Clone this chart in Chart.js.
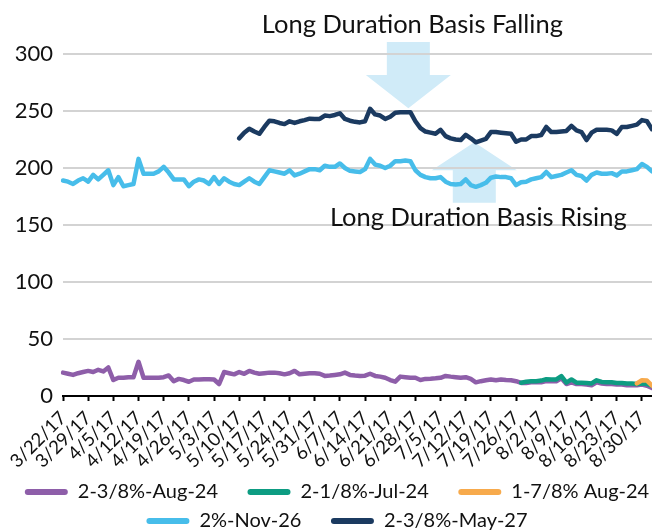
<!DOCTYPE html>
<html><head><meta charset="utf-8">
<script src="https://cdn.jsdelivr.net/npm/chart.js@4.4.1/dist/chart.umd.min.js"></script>
<style>html,body{margin:0;padding:0;background:#fff;}</style>
</head><body>
<canvas id="c" width="652" height="531"></canvas>
<script>
// Business-day categories
const dates = ("3/22/17 3/23/17 3/24/17 3/27/17 3/28/17 3/29/17 3/30/17 3/31/17 4/3/17 4/4/17 " +
"4/5/17 4/6/17 4/7/17 4/10/17 4/11/17 4/12/17 4/13/17 4/14/17 4/17/17 4/18/17 " +
"4/19/17 4/20/17 4/21/17 4/24/17 4/25/17 4/26/17 4/27/17 4/28/17 5/1/17 5/2/17 " +
"5/3/17 5/4/17 5/5/17 5/8/17 5/9/17 5/10/17 5/11/17 5/12/17 5/15/17 5/16/17 " +
"5/17/17 5/18/17 5/19/17 5/22/17 5/23/17 5/24/17 5/25/17 5/26/17 5/29/17 5/30/17 " +
"5/31/17 6/1/17 6/2/17 6/5/17 6/6/17 6/7/17 6/8/17 6/9/17 6/12/17 6/13/17 " +
"6/14/17 6/15/17 6/16/17 6/19/17 6/20/17 6/21/17 6/22/17 6/23/17 6/26/17 6/27/17 " +
"6/28/17 6/29/17 6/30/17 7/3/17 7/4/17 7/5/17 7/6/17 7/7/17 7/10/17 7/11/17 " +
"7/12/17 7/13/17 7/14/17 7/17/17 7/18/17 7/19/17 7/20/17 7/21/17 7/24/17 7/25/17 " +
"7/26/17 7/27/17 7/28/17 7/31/17 8/1/17 8/2/17 8/3/17 8/4/17 8/7/17 8/8/17 " +
"8/9/17 8/10/17 8/11/17 8/14/17 8/15/17 8/16/17 8/17/17 8/18/17 8/21/17 8/22/17 " +
"8/23/17 8/24/17 8/25/17 8/28/17 8/29/17 8/30/17 8/31/17 9/1/17").split(' ');

// Weekly tick labels shown on the axis
const tickLabels = ["3/22/17","3/29/17","4/5/17","4/12/17","4/19/17","4/26/17","5/3/17","5/10/17",
"5/17/17","5/24/17","5/31/17","6/7/17","6/14/17","6/21/17","6/28/17","7/5/17","7/12/17","7/19/17",
"7/26/17","8/2/17","8/9/17","8/16/17","8/23/17","8/30/17"];

const seriesNames = ["2-3/8%-Aug-24","2-1/8%-Jul-24","1-7/8% Aug-24","2%-Nov-26","2-3/8%-May-27"];

const aug24 = [20.5,19.5,18.5,20,21,22,21,23,21.5,25,
14,16,16,16.5,16.5,30,16,16,16,16,
16.5,18,13,15,14,12.5,14.5,14.5,14.7,14.7,
14.5,10.5,21,20,19,21,19.5,22,20.5,19.5,
20,20.5,20.5,20,19,20,22,19,19.5,20,
20,19.5,17.6,18,18.5,19,20.5,18.5,18,17.6,
17.8,19.5,17.6,17,16,14,12.6,17,16.5,16,
16,14,15,15.2,15.5,16,17.6,17,16.5,16,
16.5,15,12,13,13.8,14.5,13.8,14.5,14,13.8,
13,11.5,11.5,12,12,12,13,13,13,15.5,
10.5,12,10.5,10.5,10,9.5,12,11,10.5,10.5,
10,10,9.5,9.5,9.5,10,9,7];

const jul24 = [null,null,null,null,null,null,null,null,null,null,
null,null,null,null,null,null,null,null,null,null,
null,null,null,null,null,null,null,null,null,null,
null,null,null,null,null,null,null,null,null,null,
null,null,null,null,null,null,null,null,null,null,
null,null,null,null,null,null,null,null,null,null,
null,null,null,null,null,null,null,null,null,null,
null,null,null,null,null,null,null,null,null,null,
null,null,null,null,null,null,null,null,null,null,
null,11.7,12.5,13,13,13.5,14.7,14.5,14.5,17.5,
11.7,14.5,11.7,11.7,11.5,11,13.8,12.3,12,12,
11.5,11.5,11,11,10.5,11,10.5,9];

const aug24b = [null,null,null,null,null,null,null,null,null,null,
null,null,null,null,null,null,null,null,null,null,
null,null,null,null,null,null,null,null,null,null,
null,null,null,null,null,null,null,null,null,null,
null,null,null,null,null,null,null,null,null,null,
null,null,null,null,null,null,null,null,null,null,
null,null,null,null,null,null,null,null,null,null,
null,null,null,null,null,null,null,null,null,null,
null,null,null,null,null,null,null,null,null,null,
null,null,null,null,null,null,null,null,null,null,
null,null,null,null,null,null,null,null,null,null,
null,null,null,null,11,13.8,13.5,9];

const nov26 = [189,188,186,189,191,188,194,190,194,198,
185,192,184,185,186,208,195,195,195,197,
201,196,190,190,190,184,188,190,189,186,
192,186,191,188,186,185,188,191,188,186,
192,198,197,196,195,198,193.5,195,197,199,
199,198,202,201,201,204,200,197.5,197,196.5,
199,208,203,202,200,202,206,206,206.5,206,
198,194,192,191,191,192,188,186,185.5,186,
190,185,183.5,185,187,191.5,192.5,192,192,191,
185,187.5,188,190,191,192,196.5,192,193,194,
196,198,194,193,189,194,196,195,195,195.5,
193.5,197,197,198,199,203.5,201,197];

const may27 = [null,null,null,null,null,null,null,null,null,null,
null,null,null,null,null,null,null,null,null,null,
null,null,null,null,null,null,null,null,null,null,
null,null,null,null,null,226,231,234.5,232,230,
236,241.5,241,239.5,238.5,241,239.5,241,242,243.3,
243,243,246,245.5,246.5,248,243,241.5,240.5,240,
241,252,247,246,243,245,248.5,249,249,249,
241,235,232,231,230,233.5,228,226,225,224.5,
229,226,222.5,224,225.5,231.5,231.5,231,230.5,230,
223,225,225,228,228,229,236,231.5,231.5,232,
232.5,237,233,231.5,224.5,231,233.5,233.5,233.5,233,
230,236,236,237,238,242,241,234];

const colors = ["#8e5ea9","#0d9c82","#f7aa4c","#47bdea","#1b3a60"];
const yTicks = [0,50,100,150,200,250,300];

// Annotation anchors (category index, value)
const notes = [
  {text:"Long Duration Basis Falling", idx:69.4, val:325.5},
  {text:"Long Duration Basis Rising", idx:82.5, val:156.5}
];
const arrows = [
  {idx:68.6, tail:310.5, base:281.5, tip:252.5},
  {idx:81.7, tail:169.5, base:198, tip:222.5}
];

const FONT = "Lato, 'Open Sans', sans-serif";

const annot = {
  id:'annot',
  afterLayout(chart){
    if (chart.legend) { chart.legend.left += 11; chart.legend.right += 11; }
  },
  beforeDraw(chart){
    const {ctx, scales:{x,y}} = chart;
    ctx.save();
    ctx.fillStyle = '#d0ebf8';
    arrows.forEach(a=>{
      const cx = x.getPixelForValue(a.idx);
      const pt = y.getPixelForValue(a.tail), pb = y.getPixelForValue(a.base), pp = y.getPixelForValue(a.tip);
      const sw = 21.5, hw = 42.5;
      ctx.beginPath();
      ctx.moveTo(cx-sw, pt); ctx.lineTo(cx+sw, pt); ctx.lineTo(cx+sw, pb);
      ctx.lineTo(cx+hw, pb); ctx.lineTo(cx, pp); ctx.lineTo(cx-hw, pb); ctx.lineTo(cx-sw, pb);
      ctx.closePath(); ctx.fill();
    });
    ctx.restore();
  },
  afterDraw(chart){
    const {ctx, scales:{x,y}} = chart;
    ctx.save();
    ctx.fillStyle = '#111';
    ctx.font = "25.5px " + FONT;
    ctx.textAlign = 'center'; ctx.textBaseline = 'middle';
    notes.forEach(n=>ctx.fillText(n.text, x.getPixelForValue(n.idx), y.getPixelForValue(n.val)));
    ctx.restore();
  }
};

const dataArrays = [aug24, jul24, aug24b, nov26, may27];
const orders = [5,4,3,2,1];

new Chart(document.getElementById('c'), {
  type:'line',
  data:{
    labels: dates,
    datasets: dataArrays.map((d,i)=>({
      label: seriesNames[i], data: d, borderColor: colors[i], backgroundColor: colors[i],
      borderWidth: 4.5, pointRadius: 0, tension: 0, order: orders[i],
      borderJoinStyle:'round', borderCapStyle:'round', spanGaps:false
    }))
  },
  options:{
    responsive:false, animation:false, devicePixelRatio:1,
    layout:{padding:{top:54,right:0,bottom:-10,left:0}},
    plugins:{
      tooltip:{enabled:false},
      legend:{
        position:'bottom', align:'center',
        labels:{
          boxWidth:43, boxHeight:6, padding:9, color:'#111',
          useBorderRadius:true, borderRadius:3,
          font:{family:FONT, size:20},
          sort:(a,b)=>a.datasetIndex-b.datasetIndex,
          generateLabels:(chart)=>Chart.defaults.plugins.legend.labels.generateLabels(chart)
            .map(l=>({...l, lineWidth:0, text: ([0,1,3].includes(l.datasetIndex) ? l.text + '    ' : l.text)}))
        }
      }
    },
    scales:{
      x:{
        type:'category',
        grid:{drawOnChartArea:false, drawTicks:true, tickLength:5, tickWidth:2,
          tickColor:(c)=> (c.index % 5 === 0 ? '#000' : 'rgba(0,0,0,0)')},
        border:{display:true, color:'#000', width:2},
        ticks:{autoSkip:false, maxRotation:45, minRotation:45, padding:6, color:'#111',
          font:{family:FONT, size:18.5},
          callback:(v,i)=> (i % 5 === 0 ? tickLabels[i/5] : '')},
        afterFit:(s)=>{ s.paddingLeft = 0; s.paddingRight = 0; s.height = 77; }
      },
      y:{
        min:0, max:300,
        afterBuildTicks:(s)=>{ s.ticks = yTicks.map(v=>({value:v})); },
        grid:{color:'#d3d3d3', lineWidth:2, drawTicks:false},
        border:{display:false},
        ticks:{padding:10, color:'#111', font:{family:FONT, size:22}},
        afterFit:(s)=>{ s.width = 63; }
      }
    }
  },
  plugins:[annot]
});
</script>
</body></html>
